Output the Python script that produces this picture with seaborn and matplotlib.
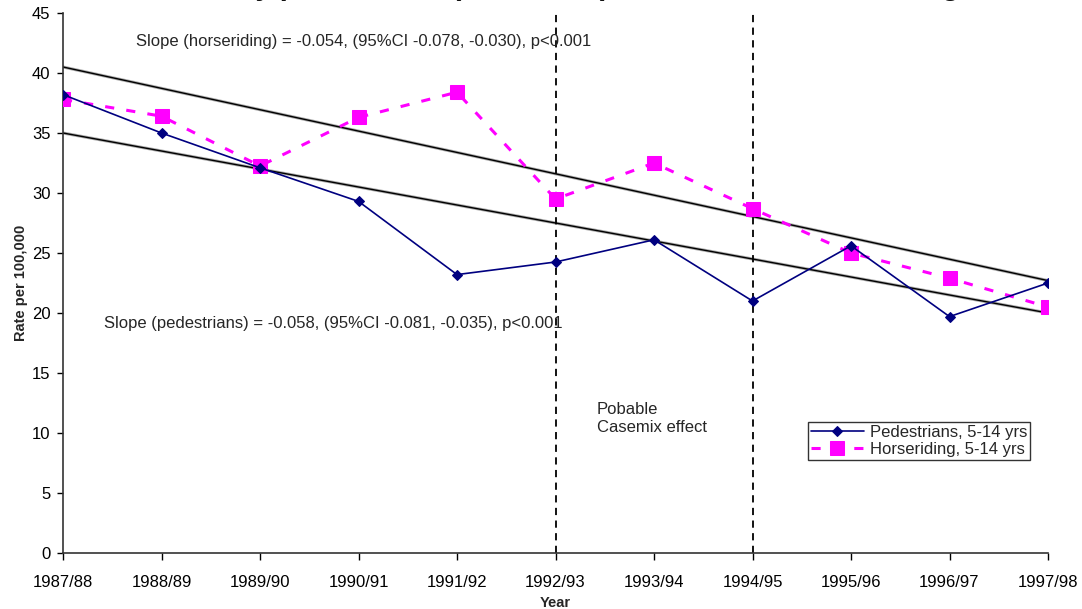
import matplotlib
matplotlib.use("Agg")
import matplotlib.pyplot as plt
import seaborn as sns
import pandas as pd
import numpy as np

years = ["1987/88", "1988/89", "1989/90", "1990/91", "1991/92", "1992/93",
         "1993/94", "1994/95", "1995/96", "1996/97", "1997/98"]
pedestrians = [38.2, 35.0, 32.1, 29.3, 23.2, 24.25, 26.1, 21.0, 25.6, 19.7, 22.5]
horseriding = [37.8, 36.4, 32.25, 36.3, 38.4, 29.5, 32.5, 28.7, 25.0, 22.9, 20.5]
band_x = [0, 10]
band_upper = [40.5, 22.7]
band_lower = [35.0, 20.0]
casemix_years = ["1992/93", "1994/95"]

sns.set_style("ticks")
plt.rcParams["font.family"] = ["Liberation Sans", "DejaVu Sans"]
narrow = ["Liberation Sans Narrow", "Liberation Sans", "DejaVu Sans"]

fig = plt.figure(figsize=(10.82, 6.09), dpi=100)
ax = fig.add_axes([63/1082, 1-553/609, (1048-63)/1082, (553-13)/609])

xpos = np.arange(len(years))
df = pd.DataFrame({"x": np.concatenate([xpos, xpos]),
                   "rate": pedestrians + horseriding,
                   "series": ["Pedestrians, 5-14 yrs"]*len(years) + ["Horseriding, 5-14 yrs"]*len(years)})

# regression band lines
ax.plot(band_x, band_upper, color="#555555", lw=2.2, alpha=0.5, zorder=1)
ax.plot(band_x, band_upper, color="black", lw=1.0, zorder=2)
ax.plot(band_x, band_lower, color="#555555", lw=2.2, alpha=0.5, zorder=1)
ax.plot(band_x, band_lower, color="black", lw=1.0, zorder=2)

for yv in casemix_years:
    ax.axvline(years.index(yv), color="black", lw=1.3, ls=(0, (4, 3)), zorder=2)

sns.lineplot(data=df[df.series == "Pedestrians, 5-14 yrs"], x="x", y="rate", ax=ax,
             color="#000080", lw=1.2, marker="D", markersize=5, markeredgecolor="#000080",
             label="Pedestrians, 5-14 yrs", zorder=4)
sns.lineplot(data=df[df.series == "Horseriding, 5-14 yrs"], x="x", y="rate", ax=ax,
             color="#FF00FF", lw=2.2, marker="s", markersize=10, markeredgecolor="#FF00FF",
             label="Horseriding, 5-14 yrs", zorder=3)
ax.lines[-1].set_dashes([3, 4])

ax.set_xlim(0, 10)
ax.set_ylim(0, 45)
ax.set_xticks(xpos)
ax.set_xticklabels(years, family=narrow, fontsize=12)
ax.set_yticks(range(0, 46, 5))
ax.set_yticklabels([str(v) for v in range(0, 46, 5)], family=narrow, fontsize=12)
for s in ["top", "right"]:
    ax.spines[s].set_visible(False)
for s in ["left", "bottom"]:
    ax.spines[s].set_color("#333333")
    ax.spines[s].set_linewidth(1.2)
ax.tick_params(axis="x", length=5, width=1, pad=11, colors="black")
ax.tick_params(axis="y", length=4, width=1, pad=5, colors="black")
ax.set_xlabel("Year", fontsize=10.5, fontweight="bold", labelpad=4, family=narrow)
ax.set_ylabel("Rate per 100,000", fontsize=10.5, fontweight="bold", labelpad=3)

ax.text(0.74, 42.6, "Slope (horseriding) = -0.054, (95%CI -0.078, -0.030), p<0.001",
        fontsize=12, va="center", ha="left")
ax.text(0.42, 19.1, "Slope (pedestrians) = -0.058, (95%CI -0.081, -0.035), p<0.001",
        fontsize=12, va="center", ha="left")
ax.text(5.42, 11.2, "Pobable\nCasemix effect", fontsize=12, va="center", ha="left",
        linespacing=1.2)

leg = ax.legend(loc="upper left", bbox_to_anchor=(808/1082, 1-422/609),
                bbox_transform=fig.transFigure, frameon=True, fancybox=False,
                edgecolor="black", fontsize=12, handlelength=3.2,
                borderpad=0.15, labelspacing=0.15, handletextpad=0.4, borderaxespad=0)
leg.get_frame().set_linewidth(1.0)

fig.text(0.02, 1 + 5/609,
         "Trends in rates by pedestrians (1987-1998) and children horseriding",
         fontsize=21, fontweight="bold", va="baseline", ha="left", color="#111111")

fig.savefig("out.png", dpi=100)
